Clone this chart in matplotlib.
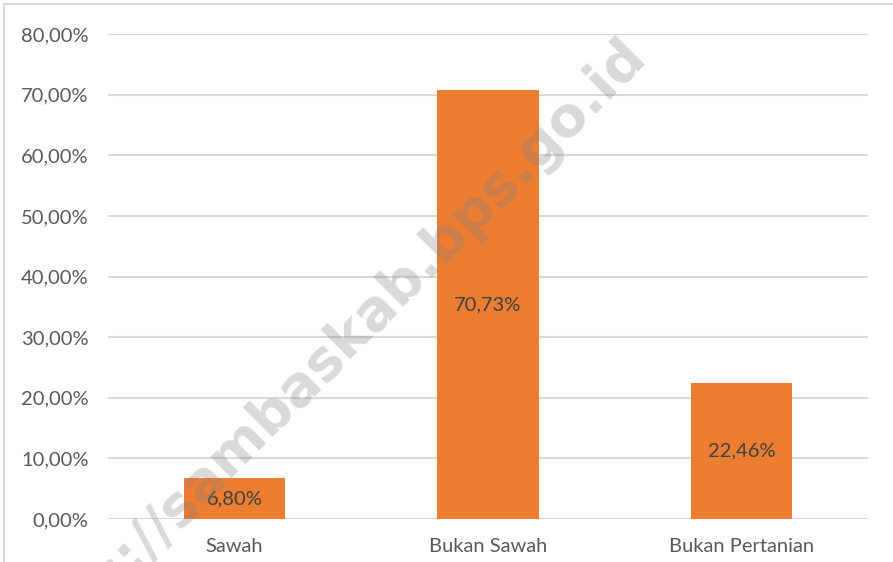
import matplotlib.pyplot as plt
from matplotlib.lines import Line2D
import numpy as np

kategori = ["Sawah", "Bukan Sawah", "Bukan Pertanian"]
persen = [6.80, 70.73, 22.46]
yticks = [0, 10, 20, 30, 40, 50, 60, 70, 80]

plt.rcParams['font.family'] = ['Lato', 'DejaVu Sans']

fig = plt.figure(figsize=(8.93, 5.62), dpi=100)
ax = fig.add_axes([108/893, 1-519/562, 760/893, 485/562])

x = np.arange(len(kategori))
bars = ax.bar(x, persen, width=0.4, color='#ED7D31', zorder=2)

for xi, v in zip(x, persen):
    ax.text(xi, v/2, ('%.2f' % v).replace('.', ',') + '%', ha='center', va='center',
            fontsize=14.5, color='#404040', zorder=3)

ax.set_xlim(-0.5, 2.5)
ax.set_ylim(0, 80)
ax.set_yticks(yticks)
ax.set_yticklabels([('%.2f' % t).replace('.', ',') + '%' for t in yticks])
ax.set_xticks(x)
ax.set_xticklabels(kategori)
ax.tick_params(length=0, labelsize=14.5, colors='#595959')
ax.tick_params(axis='y', pad=14)
ax.tick_params(axis='x', pad=14)
ax.grid(axis='y', color='#d9d9d9', linewidth=1.5, zorder=0)
for s in ax.spines.values():
    s.set_visible(False)

# border of chart area (only top and left visible)
fig.add_artist(Line2D([4/893, 1], [1-4/562, 1-4/562], color='#d9d9d9', linewidth=1.5))
fig.add_artist(Line2D([4/893, 4/893], [0, 1-4/562], color='#d9d9d9', linewidth=1.5))

# watermark
fig.text(322/893, 1-362/562, "https://sambaskab.bps.go.id", rotation=45,
         ha='center', va='center', fontsize=40, fontweight='bold',
         family='DejaVu Sans', color='#808080', alpha=0.3, zorder=10)

fig.savefig('out.png', dpi=100)
